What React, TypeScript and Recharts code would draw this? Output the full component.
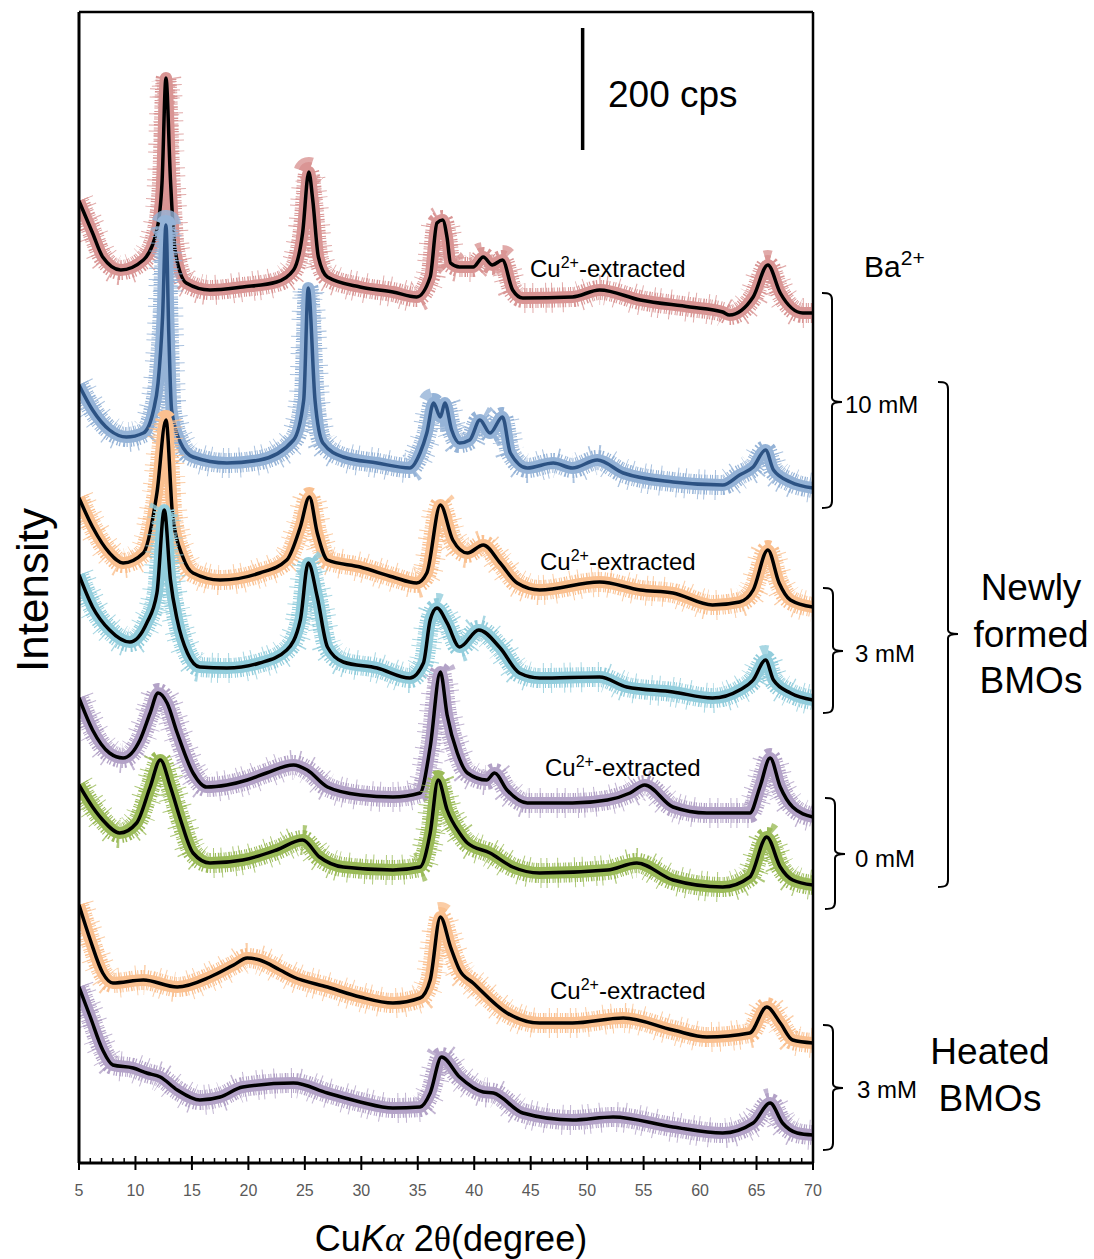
import React from 'react';
import { LineChart, Line, XAxis, YAxis, ReferenceLine } from 'recharts';

// Stacked XRD patterns, smoothed trace.
// Intensity in plot units (offsets included): 122 units = 200 cps.
const baExtracted: [number, number][] = [
  [5, 962], [6.2, 930], [7.1, 906], [8.7, 893], [10.7, 903], [11.9, 933], [12.35, 980], [12.7, 1085],
  [13.1, 983], [13.5, 913], [14.5, 880], [16.6, 873], [19.5, 876], [22.5, 881], [24, 893], [24.8, 930],
  [25.35, 991], [25.7, 963], [26.2, 906], [27, 886], [29.9, 876], [32.8, 871], [34.9, 866], [36.1, 886],
  [36.7, 940], [37.2, 943], [37.6, 925], [37.9, 900], [38.7, 896], [39.9, 896], [40.8, 906], [41.6, 898],
  [42.5, 903], [43.4, 873], [44.3, 865], [48.7, 866], [51.1, 873], [54.7, 863], [59.1, 856], [62, 851],
  [62.6, 848], [64.7, 866], [66, 898], [67.1, 870], [69.1, 850], [70, 850],
];
const baTen: [number, number][] = [
  [5, 778], [6.2, 753], [7.7, 733], [9.2, 726], [10.7, 730], [11.6, 753], [12, 780], [12.4, 846],
  [12.7, 938], [12.95, 830], [13.2, 753], [14, 720], [15.1, 706], [18.1, 700], [21, 703], [24, 723],
  [24.9, 763], [25.3, 875], [25.9, 763], [26.6, 720], [28.4, 706], [31.4, 700], [34.3, 695], [35.2, 710],
  [35.8, 730], [36.4, 760], [37, 746], [37.4, 760], [38, 733], [38.7, 720], [39.6, 723], [40.5, 743],
  [41.4, 730], [42.5, 746], [43.2, 710], [44.7, 695], [47, 700], [48.7, 695], [50.9, 703], [53.2, 690],
  [57.6, 681], [62, 678], [63.5, 688], [64.7, 696], [65.8, 713], [66.5, 693], [68, 681], [70, 675],
];
const cu3Extracted: [number, number][] = [
  [5, 665], [6.2, 636], [7.7, 610], [8.9, 600], [10.7, 610], [11.9, 670], [12.7, 743], [13.3, 646],
  [14.2, 606], [15.1, 590], [17.5, 583], [21, 590], [23.4, 603], [24.6, 636], [25.4, 666], [26.1, 630],
  [27, 603], [29.9, 596], [32.8, 586], [34.9, 580], [35.8, 590], [37, 658], [38.1, 623], [39.4, 610],
  [40.8, 618], [42.3, 600], [43.8, 580], [45.8, 573], [51.1, 581], [54.7, 573], [57.6, 570], [61.1, 558],
  [63.5, 561], [64.7, 573], [66, 613], [67, 580], [68, 563], [70, 556],
];
const cu3: [number, number][] = [
  [5, 588], [6.2, 556], [7.7, 533], [9.5, 521], [11, 540], [11.9, 570], [12.55, 653], [13.1, 583],
  [13.7, 543], [14.6, 510], [15.7, 496], [18.1, 495], [21, 500], [23.4, 513], [24.6, 543], [25.3, 600],
  [26.1, 566], [27, 516], [28.4, 501], [31.4, 495], [34.3, 485], [35.5, 500], [36.1, 543], [36.7, 555],
  [37.6, 540], [38.7, 516], [40.4, 533], [42.3, 515], [44, 490], [45.8, 485], [51.1, 486], [53.5, 476],
  [57.6, 471], [61.1, 465], [63.5, 473], [64.7, 483], [65.8, 503], [66.5, 483], [68, 470], [70, 463],
];
const cu0Extracted: [number, number][] = [
  [5, 465], [6.2, 433], [7.7, 410], [8.9, 405], [10.4, 423], [11.3, 450], [12, 470], [12.8, 460],
  [13.7, 430], [15.1, 390], [16.3, 376], [18.1, 378], [19.9, 383], [21.6, 390], [24, 398], [25.2, 393],
  [27, 376], [29.9, 368], [32.8, 366], [35.2, 370], [36.1, 416], [37, 491], [37.6, 448], [38.5, 410],
  [39.4, 390], [41.1, 383], [41.8, 390], [42.9, 373], [44.7, 360], [48.7, 360], [51.8, 363], [53.8, 370],
  [55.1, 378], [57.6, 356], [60.6, 350], [64.4, 350], [65.3, 376], [66.2, 405], [67.1, 376], [68.2, 356],
  [70, 346],
];
const cu0: [number, number][] = [
  [5, 378], [6.2, 356], [7.1, 343], [8.6, 330], [10.1, 340], [11.3, 376], [12.2, 403], [13.1, 376],
  [14, 343], [15.1, 310], [16.6, 300], [19.5, 303], [22.5, 313], [24.8, 323], [26.3, 306], [28.4, 296],
  [32.8, 293], [35.2, 296], [36.1, 330], [36.8, 383], [37.6, 353], [38.7, 330], [39.4, 320], [41.4, 310],
  [43.4, 296], [45.8, 290], [51.8, 293], [54.4, 300], [57.6, 283], [62, 276], [64.4, 286], [65.9, 326],
  [67.1, 296], [68.2, 283], [70, 278],
];
const heatedExtracted: [number, number][] = [
  [5, 258], [6, 223], [7.1, 190], [8, 180], [10.7, 183], [13.7, 176], [16.6, 186], [18.7, 198],
  [19.9, 205], [21, 203], [22.8, 193], [24, 186], [27, 176], [29.9, 166], [32.8, 160], [35.2, 165], [36.1, 183],
  [37, 246], [37.9, 216], [38.7, 193], [39.9, 180], [42.9, 150], [45.8, 140], [48.7, 140], [53.2, 145],
  [57.6, 133], [60.6, 126], [64.4, 130], [65.9, 156], [67.1, 140], [68.2, 123], [70, 120],
];
const heated3: [number, number][] = [
  [5, 176], [6, 146], [7.1, 113], [8, 98], [9.8, 95], [11, 90], [12.2, 86], [13.7, 73],
  [15.7, 63], [17.5, 66], [19.5, 76], [24, 80], [27, 70], [29.9, 61], [32.8, 55], [35.2, 56],
  [36.1, 70], [37.1, 106], [38.7, 86], [40.8, 71], [41.7, 70], [44.3, 50], [48.7, 43], [52.3, 46],
  [57.6, 36], [62, 30], [64.7, 40], [66.2, 60], [67.3, 40], [68.6, 30], [70, 28],
];

// scale bar: 200 cps
const scaleBarAt = 49.6;
const scaleBarFrom = 1013;
const scaleBarTo = 1135;

const xTicks = Array.from({ length: 66 }, (_, i) => 5 + i);

const traces = [
  { id: 'baExtracted', pts: baExtracted, noise: '#d99594', line: '#000' },
  { id: 'baTen', pts: baTen, noise: '#95b3d7', line: '#2c5283' },
  { id: 'cu3Extracted', pts: cu3Extracted, noise: '#fac090', line: '#000' },
  { id: 'cu3', pts: cu3, noise: '#92cddc', line: '#000' },
  { id: 'cu0Extracted', pts: cu0Extracted, noise: '#b3a2c7', line: '#000' },
  { id: 'cu0', pts: cu0, noise: '#9bbb59', line: '#000' },
  { id: 'heatedExtracted', pts: heatedExtracted, noise: '#fac090', line: '#000' },
  { id: 'heated3', pts: heated3, noise: '#b3a2c7', line: '#000' },
];

const W = 1094;
const H = 1259;
const AXIS_Y = 1163;
const FONT = '"Liberation Sans", Arial, sans-serif';

const toPts = (arr: [number, number][]) => arr.map(([x, y]) => ({ x, y }));

const AxisTick = ({ x, payload }: any) => {
  const v = payload.value;
  if (v % 5 !== 0) {
    return <line x1={x} x2={x} y1={AXIS_Y - 5} y2={AXIS_Y} stroke="#000" strokeWidth={1.5} />;
  }
  return (
    <g>
      <line x1={x} x2={x} y1={AXIS_Y - 7} y2={AXIS_Y + 7} stroke="#000" strokeWidth={2} />
      <text x={x} y={AXIS_Y + 33} textAnchor="middle" fontSize={16} fill="#595959" fontFamily={FONT}>
        {v}
      </text>
    </g>
  );
};

// right-hand bracket "]" with a short tick in the middle
const bracket = (x: number, top: number, bottom: number, mid: number, arm = 10) =>
  `M ${x - arm} ${top} C ${x - 3} ${top} ${x} ${top + 1} ${x} ${top + 7} L ${x} ${mid - 4} ` +
  `Q ${x} ${mid} ${x + arm} ${mid} Q ${x} ${mid} ${x} ${mid + 4} L ${x} ${bottom - 7} ` +
  `C ${x} ${bottom - 1} ${x - 3} ${bottom} ${x - arm} ${bottom}`;

const CuLabel = ({ x, y }: { x: number; y: number }) => (
  <text x={x} y={y} fontSize={24} fontFamily={FONT} fill="#000">
    Cu
    <tspan dy={-9} fontSize={16}>2+</tspan>
    <tspan dy={9} fontSize={24}>-extracted</tspan>
  </text>
);

const common = {
  dataKey: 'y',
  type: 'monotoneX' as const,
  dot: false,
  activeDot: false,
  isAnimationActive: false,
  strokeLinejoin: 'round' as const,
};

export default function App() {
  const series = traces.flatMap((t) => {
    const data = toPts(t.pts);
    return [
      <Line key={`${t.id}-b`} data={data} {...common} stroke={t.noise} strokeWidth={12} />,
      <Line key={`${t.id}-n1`} data={data} {...common} stroke={t.noise} strokeWidth={20}
        strokeDasharray="1 1 1 2 1.5 1 1 2.5" />,
      <Line key={`${t.id}-n2`} data={data} {...common} stroke={t.noise} strokeWidth={30}
        strokeDasharray="1 7 1 12 1 5 1 10 1 16" strokeOpacity={0.8} />,
      <Line key={`${t.id}-s`} data={data} {...common} stroke={t.line} strokeWidth={3.5} />,
    ];
  });

  return (
    <div style={{ position: 'absolute', left: 0, top: 0, width: W, height: H, background: '#fff', fontFamily: FONT }}>
      <LineChart width={W} height={H} margin={{ top: 12, right: 281, bottom: 95, left: 78 }}>
        <XAxis type="number" dataKey="x" domain={[5, 70]} ticks={xTicks} interval={0} height={1}
          tick={<AxisTick />} tickLine={false} axisLine={false} allowDataOverflow />
        <YAxis type="number" domain={[0, 1151]} width={1} tick={false} tickLine={false}
          axisLine={false} allowDataOverflow />
        {series}
        <ReferenceLine y={1151} stroke="#000" strokeWidth={2.5} />
        <ReferenceLine x={70} stroke="#000" strokeWidth={2.5} />
        <ReferenceLine x={5} stroke="#000" strokeWidth={3} />
        <ReferenceLine y={0} stroke="#000" strokeWidth={3} />
        <ReferenceLine segment={[{ x: scaleBarAt, y: scaleBarFrom }, { x: scaleBarAt, y: scaleBarTo }]}
          stroke="#000" strokeWidth={3.5} />
      </LineChart>

      <svg width={W} height={H} style={{ position: 'absolute', left: 0, top: 0, pointerEvents: 'none' }}>
        <text x={608} y={107} fontSize={37} fontFamily={FONT}>200 cps</text>

        <CuLabel x={530} y={277} />
        <CuLabel x={540} y={570} />
        <CuLabel x={545} y={776} />
        <CuLabel x={550} y={999} />

        <text x={864} y={277} fontSize={30} fontFamily={FONT}>
          Ba<tspan dy={-12} fontSize={21}>2+</tspan>
        </text>

        <g fill="none" stroke="#000" strokeWidth={2}>
          <path d={bracket(832, 293, 508, 402)} />
          <path d={bracket(833, 588, 713, 651)} />
          <path d={bracket(835, 798, 909, 854)} />
          <path d={bracket(948, 382, 887, 634)} />
          <path d={bracket(833, 1025, 1150, 1088)} />
        </g>

        <text x={845} y={413} fontSize={24} fontFamily={FONT}>10 mM</text>
        <text x={855} y={662} fontSize={24} fontFamily={FONT}>3 mM</text>
        <text x={855} y={867} fontSize={24} fontFamily={FONT}>0 mM</text>
        <text x={857} y={1098} fontSize={24} fontFamily={FONT}>3 mM</text>

        <g fontSize={37} fontFamily={FONT} textAnchor="middle">
          <text x={1031} y={600}>Newly</text>
          <text x={1031} y={647}>formed</text>
          <text x={1031} y={693}>BMOs</text>
          <text x={990} y={1064}>Heated</text>
          <text x={990} y={1111}>BMOs</text>
        </g>

        <text transform="translate(48,590) rotate(-90)" textAnchor="middle" fontSize={44} fontFamily={FONT}>
          Intensity
        </text>

        <text x={451} y={1251} textAnchor="middle" fontSize={36} fontFamily={FONT}>
          Cu<tspan fontStyle="italic">K</tspan>
          <tspan fontStyle="italic" fontFamily='"Liberation Serif", "DejaVu Serif", serif'>α</tspan>
          <tspan> 2</tspan>
          <tspan fontFamily='"Liberation Serif", "DejaVu Serif", serif'>θ</tspan>
          <tspan>(degree)</tspan>
        </text>
      </svg>
    </div>
  );
}
